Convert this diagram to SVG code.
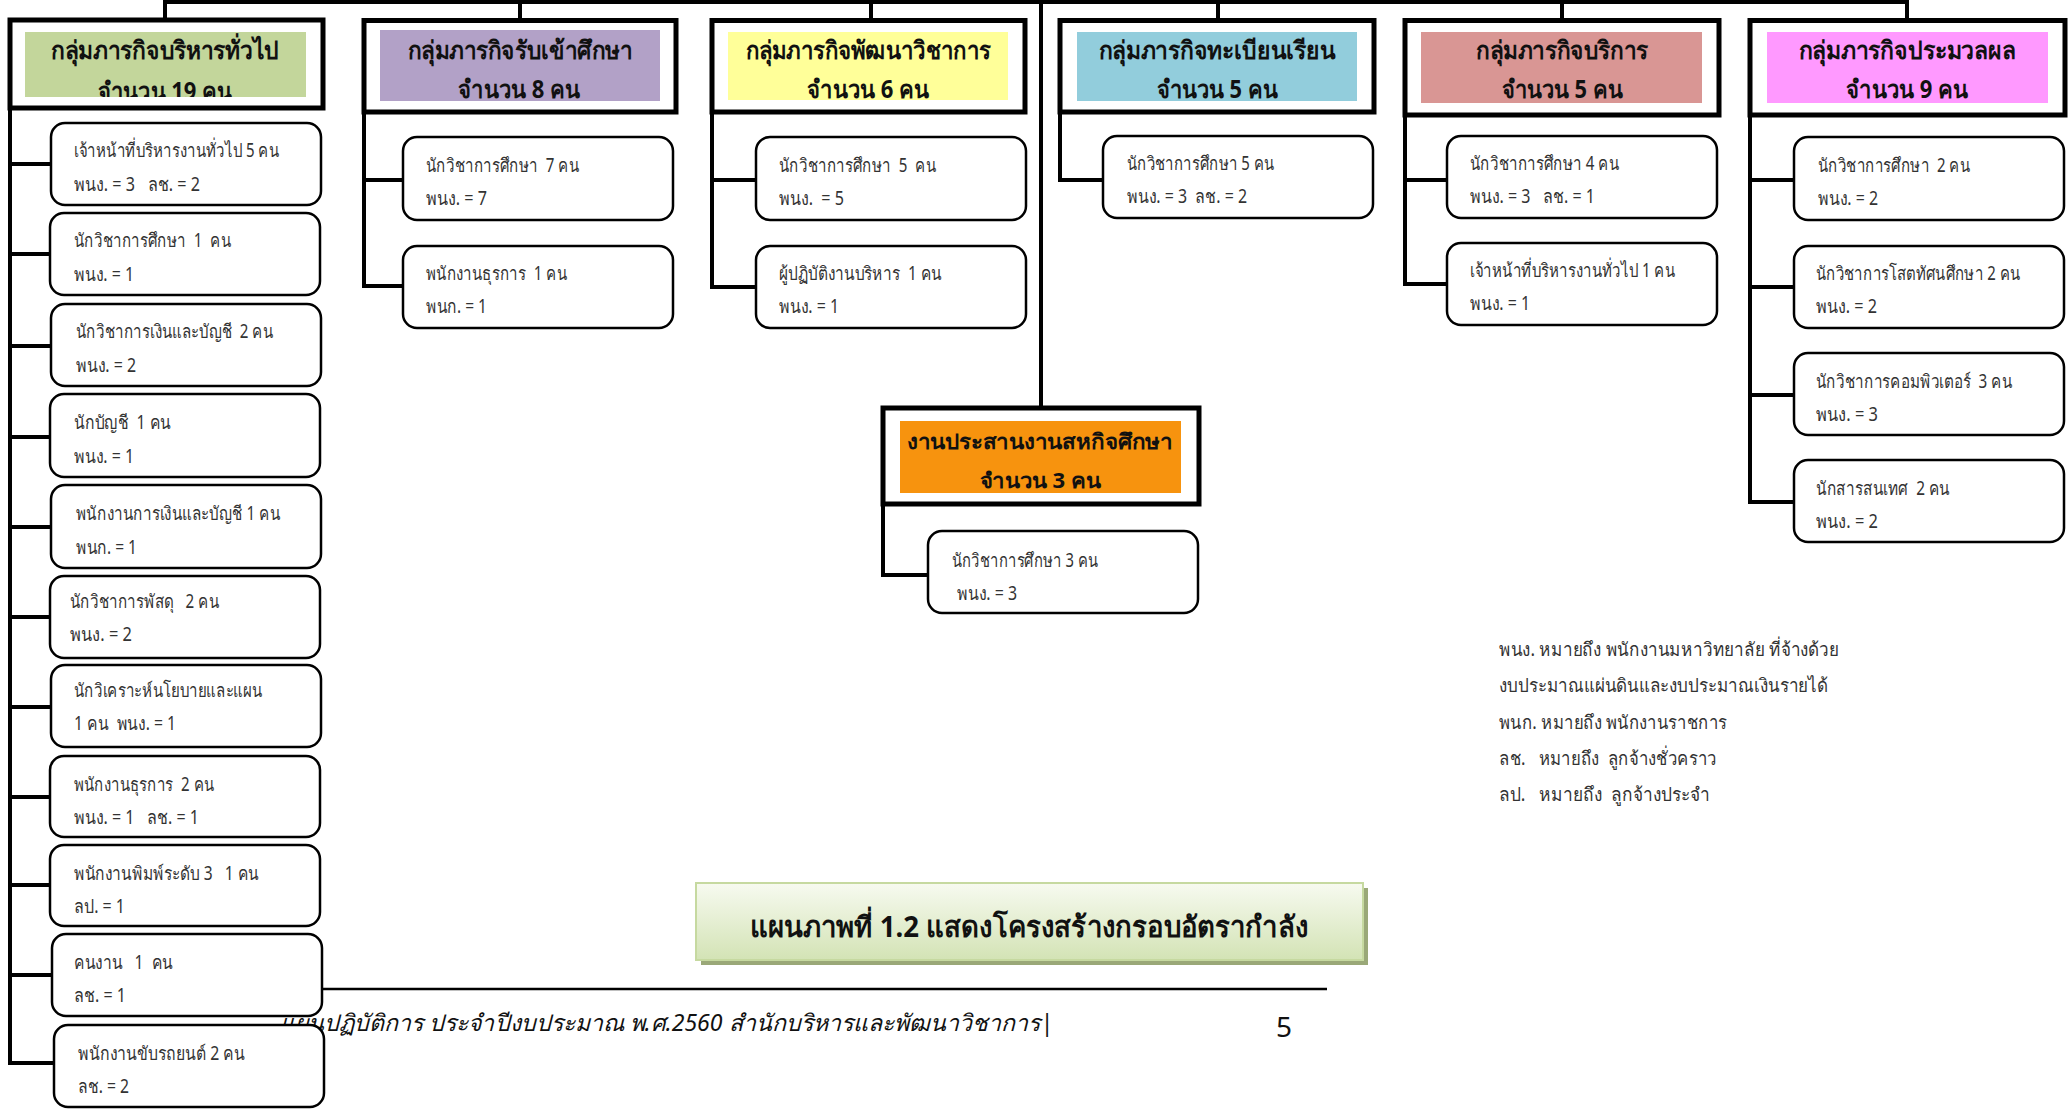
<svg xmlns="http://www.w3.org/2000/svg" width="2071" height="1114" viewBox="0 0 2071 1114">
<style>
text{font-family:"Noto Sans","DejaVu Sans",sans-serif;fill:#111;white-space:pre}
.t{font-size:19px;fill:#333}
.h{font-size:25px;font-weight:bold;text-anchor:middle}
.ho{font-size:21px;font-weight:bold;text-anchor:middle}
.lg{font-size:19px;fill:#333}
.grp{fill:#fff;stroke:#000;stroke-width:5}
.ch{fill:#fff;stroke:#000;stroke-width:2.5}
.con{fill:none;stroke:#000;stroke-width:4}
</style>
<defs>
<clipPath id="clipG"><rect x="25" y="32" width="281" height="65"/></clipPath>
<linearGradient id="capg" x1="0" y1="0" x2="0" y2="1">
<stop offset="0" stop-color="#f7faf0"/><stop offset="1" stop-color="#d3e3b5"/>
</linearGradient>
</defs>

<g id="footer">
<line x1="322" y1="989" x2="1327" y2="989" stroke="#000" stroke-width="2.5"/>
<text x="280" y="1031" font-size="23" font-style="italic" fill="#222" textLength="773" lengthAdjust="spacingAndGlyphs">แผนปฏิบัติการ ประจำปีงบประมาณ พ.ศ.2560 สำนักบริหารและพัฒนาวิชาการ|</text>
<text x="1276" y="1037" font-size="28" fill="#222">5</text>
</g>

<g id="connectors">
<path class="con" d="M165 20 V2 H1907 V20 M520 2 V20 M871 2 V20 M1218 2 V20 M1562 2 V20 M1041 2 V408"/>
<path class="con" d="M10 108 V1063 H54 M10 164 H51 M10 254 H50 M10 346 H51 M10 437 H50 M10 527 H51 M10 617 H50 M10 707 H51 M10 797 H50 M10 885 H50 M10 975 H52"/>
<path class="con" d="M364 112 V286 H403 M364 180 H403"/>
<path class="con" d="M712 112 V287 H756 M712 180 H756"/>
<path class="con" d="M1060 112 V180 H1103"/>
<path class="con" d="M1405 115 V284 H1447 M1405 180 H1447"/>
<path class="con" d="M1750 115 V502 H1794 M1750 180 H1794 M1750 287 H1794 M1750 395 H1794"/>
<path class="con" d="M883 504 V575 H928"/>
</g>

<g id="group-admin">
<rect class="grp" x="10" y="20" width="313" height="88"/>
<rect x="25" y="32" width="281" height="65" fill="#c3d69b"/>
<text class="h" x="165" y="59" textLength="228" lengthAdjust="spacingAndGlyphs">กลุ่มภารกิจบริหารทั่วไป</text>
<g clip-path="url(#clipG)"><text class="h" x="165" y="100" textLength="134" lengthAdjust="spacingAndGlyphs">จำนวน 19 คน</text></g>
</g>
<g id="group-admission">
<rect class="grp" x="364" y="20.5" width="312" height="91.5"/>
<rect x="380" y="30" width="280" height="71" fill="#b2a1c7"/>
<text class="h" x="520" y="59" textLength="225" lengthAdjust="spacingAndGlyphs">กลุ่มภารกิจรับเข้าศึกษา</text>
<text class="h" x="519" y="98" textLength="122" lengthAdjust="spacingAndGlyphs">จำนวน 8 คน</text>
</g>
<g id="group-academic">
<rect class="grp" x="712" y="20.5" width="313" height="91.5"/>
<rect x="728" y="32" width="280" height="68" fill="#ffff99"/>
<text class="h" x="868" y="59" textLength="245" lengthAdjust="spacingAndGlyphs">กลุ่มภารกิจพัฒนาวิชาการ</text>
<text class="h" x="868" y="98" textLength="122" lengthAdjust="spacingAndGlyphs">จำนวน 6 คน</text>
</g>
<g id="group-registrar">
<rect class="grp" x="1060" y="20.5" width="314" height="91.5"/>
<rect x="1077" y="32" width="280" height="69" fill="#92cddc"/>
<text class="h" x="1217" y="59" textLength="237" lengthAdjust="spacingAndGlyphs">กลุ่มภารกิจทะเบียนเรียน</text>
<text class="h" x="1217" y="98" textLength="121" lengthAdjust="spacingAndGlyphs">จำนวน 5 คน</text>
</g>
<g id="group-service">
<rect class="grp" x="1405" y="20.5" width="314" height="94.5"/>
<rect x="1421" y="32" width="281" height="71" fill="#d99694"/>
<text class="h" x="1562" y="59" textLength="172" lengthAdjust="spacingAndGlyphs">กลุ่มภารกิจบริการ</text>
<text class="h" x="1562" y="98" textLength="121" lengthAdjust="spacingAndGlyphs">จำนวน 5 คน</text>
</g>
<g id="group-processing">
<rect class="grp" x="1750" y="20.5" width="315" height="94.5"/>
<rect x="1767" y="32" width="281" height="71" fill="#ff99ff"/>
<text class="h" x="1907" y="59" textLength="217" lengthAdjust="spacingAndGlyphs">กลุ่มภารกิจประมวลผล</text>
<text class="h" x="1907" y="98" textLength="122" lengthAdjust="spacingAndGlyphs">จำนวน 9 คน</text>
</g>
<g id="group-coop">
<rect class="grp" x="883" y="408" width="316" height="96"/>
<rect x="900" y="421" width="281" height="72" fill="#f7930e"/>
<text class="ho" x="1040" y="449" textLength="266" lengthAdjust="spacingAndGlyphs">งานประสานงานสหกิจศึกษา</text>
<text class="ho" x="1040" y="488" textLength="121" lengthAdjust="spacingAndGlyphs">จำนวน 3 คน</text>
</g>

<g id="admin-1"><rect class="ch" x="51" y="123" width="270" height="82" rx="14"/><text class="t" x="74" y="157" textLength="205" lengthAdjust="spacingAndGlyphs">เจ้าหน้าที่บริหารงานทั่วไป 5 คน</text><text class="t" x="74" y="191" textLength="126" lengthAdjust="spacingAndGlyphs">พนง. = 3   ลช. = 2</text></g>
<g id="admin-2"><rect class="ch" x="50" y="213" width="270" height="82" rx="14"/><text class="t" x="74" y="247" textLength="157" lengthAdjust="spacingAndGlyphs">นักวิชาการศึกษา  1  คน</text><text class="t" x="74" y="281" textLength="60" lengthAdjust="spacingAndGlyphs">พนง. = 1</text></g>
<g id="admin-3"><rect class="ch" x="51" y="304" width="270" height="82" rx="14"/><text class="t" x="76" y="338" textLength="197" lengthAdjust="spacingAndGlyphs">นักวิชาการเงินและบัญชี  2 คน</text><text class="t" x="76" y="372" textLength="60" lengthAdjust="spacingAndGlyphs">พนง. = 2</text></g>
<g id="admin-4"><rect class="ch" x="50" y="394" width="270" height="83" rx="14"/><text class="t" x="74" y="429" textLength="97" lengthAdjust="spacingAndGlyphs">นักบัญชี  1 คน</text><text class="t" x="74" y="463" textLength="60" lengthAdjust="spacingAndGlyphs">พนง. = 1</text></g>
<g id="admin-5"><rect class="ch" x="51" y="485" width="270" height="83" rx="14"/><text class="t" x="76" y="520" textLength="204" lengthAdjust="spacingAndGlyphs">พนักงานการเงินและบัญชี 1 คน</text><text class="t" x="76" y="554" textLength="61" lengthAdjust="spacingAndGlyphs">พนก. = 1</text></g>
<g id="admin-6"><rect class="ch" x="50" y="576" width="270" height="82" rx="14"/><text class="t" x="70" y="608" textLength="149" lengthAdjust="spacingAndGlyphs">นักวิชาการพัสดุ   2 คน</text><text class="t" x="70" y="641" textLength="62" lengthAdjust="spacingAndGlyphs">พนง. = 2</text></g>
<g id="admin-7"><rect class="ch" x="51" y="665" width="270" height="82" rx="14"/><text class="t" x="74" y="697" textLength="188" lengthAdjust="spacingAndGlyphs">นักวิเคราะห์นโยบายและแผน</text><text class="t" x="74" y="730" textLength="102" lengthAdjust="spacingAndGlyphs">1 คน  พนง. = 1</text></g>
<g id="admin-8"><rect class="ch" x="50" y="756" width="270" height="81" rx="14"/><text class="t" x="74" y="791" textLength="140" lengthAdjust="spacingAndGlyphs">พนักงานธุรการ  2 คน</text><text class="t" x="74" y="824" textLength="125" lengthAdjust="spacingAndGlyphs">พนง. = 1   ลช. = 1</text></g>
<g id="admin-9"><rect class="ch" x="50" y="845" width="270" height="81" rx="14"/><text class="t" x="74" y="880" textLength="185" lengthAdjust="spacingAndGlyphs">พนักงานพิมพ์ระดับ 3   1 คน</text><text class="t" x="74" y="913" textLength="51" lengthAdjust="spacingAndGlyphs">ลป. = 1</text></g>
<g id="admin-10"><rect class="ch" x="52" y="934" width="270" height="82" rx="14"/><text class="t" x="74" y="969" textLength="99" lengthAdjust="spacingAndGlyphs">คนงาน   1  คน</text><text class="t" x="74" y="1002" textLength="52" lengthAdjust="spacingAndGlyphs">ลช. = 1</text></g>
<g id="admin-11"><rect class="ch" x="54" y="1025" width="270" height="82" rx="14"/><text class="t" x="78" y="1060" textLength="167" lengthAdjust="spacingAndGlyphs">พนักงานขับรถยนต์ 2 คน</text><text class="t" x="78" y="1093" textLength="51" lengthAdjust="spacingAndGlyphs">ลช. = 2</text></g>

<g id="admission-1"><rect class="ch" x="403" y="137" width="270" height="83" rx="14"/><text class="t" x="426" y="172" textLength="153" lengthAdjust="spacingAndGlyphs">นักวิชาการศึกษา  7 คน</text><text class="t" x="426" y="205" textLength="61" lengthAdjust="spacingAndGlyphs">พนง. = 7</text></g>
<g id="admission-2"><rect class="ch" x="403" y="246" width="270" height="82" rx="14"/><text class="t" x="426" y="280" textLength="141" lengthAdjust="spacingAndGlyphs">พนักงานธุรการ  1 คน</text><text class="t" x="426" y="313" textLength="61" lengthAdjust="spacingAndGlyphs">พนก. = 1</text></g>

<g id="academic-1"><rect class="ch" x="756" y="137" width="270" height="83" rx="14"/><text class="t" x="779" y="172" textLength="157" lengthAdjust="spacingAndGlyphs">นักวิชาการศึกษา  5  คน</text><text class="t" x="779" y="205" textLength="65" lengthAdjust="spacingAndGlyphs">พนง.  = 5</text></g>
<g id="academic-2"><rect class="ch" x="756" y="246" width="270" height="82" rx="14"/><text class="t" x="779" y="280" textLength="163" lengthAdjust="spacingAndGlyphs">ผู้ปฏิบัติงานบริหาร  1 คน</text><text class="t" x="779" y="313" textLength="60" lengthAdjust="spacingAndGlyphs">พนง. = 1</text></g>

<g id="registrar-1"><rect class="ch" x="1103" y="136" width="270" height="82" rx="14"/><text class="t" x="1127" y="170" textLength="147" lengthAdjust="spacingAndGlyphs">นักวิชาการศึกษา 5 คน</text><text class="t" x="1127" y="203" textLength="120" lengthAdjust="spacingAndGlyphs">พนง. = 3  ลช. = 2</text></g>

<g id="service-1"><rect class="ch" x="1447" y="136" width="270" height="82" rx="14"/><text class="t" x="1470" y="170" textLength="149" lengthAdjust="spacingAndGlyphs">นักวิชาการศึกษา 4 คน</text><text class="t" x="1470" y="203" textLength="125" lengthAdjust="spacingAndGlyphs">พนง. = 3   ลช. = 1</text></g>
<g id="service-2"><rect class="ch" x="1447" y="243" width="270" height="82" rx="14"/><text class="t" x="1470" y="277" textLength="205" lengthAdjust="spacingAndGlyphs">เจ้าหน้าที่บริหารงานทั่วไป 1 คน</text><text class="t" x="1470" y="310" textLength="60" lengthAdjust="spacingAndGlyphs">พนง. = 1</text></g>

<g id="processing-1"><rect class="ch" x="1794" y="137" width="270" height="83" rx="14"/><text class="t" x="1818" y="172" textLength="152" lengthAdjust="spacingAndGlyphs">นักวิชาการศึกษา  2 คน</text><text class="t" x="1818" y="205" textLength="60" lengthAdjust="spacingAndGlyphs">พนง. = 2</text></g>
<g id="processing-2"><rect class="ch" x="1794" y="246" width="270" height="82" rx="14"/><text class="t" x="1816" y="280" textLength="204" lengthAdjust="spacingAndGlyphs">นักวิชาการโสตทัศนศึกษา 2 คน</text><text class="t" x="1816" y="313" textLength="61" lengthAdjust="spacingAndGlyphs">พนง. = 2</text></g>
<g id="processing-3"><rect class="ch" x="1794" y="353" width="270" height="82" rx="14"/><text class="t" x="1816" y="388" textLength="196" lengthAdjust="spacingAndGlyphs">นักวิชาการคอมพิวเตอร์  3 คน</text><text class="t" x="1816" y="421" textLength="62" lengthAdjust="spacingAndGlyphs">พนง. = 3</text></g>
<g id="processing-4"><rect class="ch" x="1794" y="460" width="270" height="82" rx="14"/><text class="t" x="1816" y="495" textLength="134" lengthAdjust="spacingAndGlyphs">นักสารสนเทศ  2 คน</text><text class="t" x="1816" y="528" textLength="62" lengthAdjust="spacingAndGlyphs">พนง. = 2</text></g>

<g id="coop-1"><rect class="ch" x="928" y="531" width="270" height="82" rx="14"/><text class="t" x="952" y="567" textLength="146" lengthAdjust="spacingAndGlyphs">นักวิชาการศึกษา 3 คน</text><text class="t" x="957" y="600" textLength="60" lengthAdjust="spacingAndGlyphs">พนง. = 3</text></g>

<g id="legend">
<text class="lg" x="1499" y="656" textLength="340" lengthAdjust="spacingAndGlyphs">พนง. หมายถึง พนักงานมหาวิทยาลัย ที่จ้างด้วย</text>
<text class="lg" x="1499" y="692" textLength="329" lengthAdjust="spacingAndGlyphs">งบประมาณแผ่นดินและงบประมาณเงินรายได้</text>
<text class="lg" x="1499" y="729" textLength="228" lengthAdjust="spacingAndGlyphs">พนก. หมายถึง พนักงานราชการ</text>
<text class="lg" x="1499" y="765" textLength="218" lengthAdjust="spacingAndGlyphs">ลช.   หมายถึง  ลูกจ้างชั่วคราว</text>
<text class="lg" x="1499" y="801" textLength="211" lengthAdjust="spacingAndGlyphs">ลป.   หมายถึง  ลูกจ้างประจำ</text>
</g>

<g id="caption">
<rect x="701" y="888" width="667" height="77" fill="#9aa878"/>
<rect x="696" y="883" width="667" height="77" fill="url(#capg)" stroke="#c6d9a0" stroke-width="2"/>
<text x="1029" y="937" font-size="29" font-weight="bold" text-anchor="middle" textLength="558" lengthAdjust="spacingAndGlyphs">แผนภาพที่ 1.2 แสดงโครงสร้างกรอบอัตรากำลัง</text>
</g>
</svg>
